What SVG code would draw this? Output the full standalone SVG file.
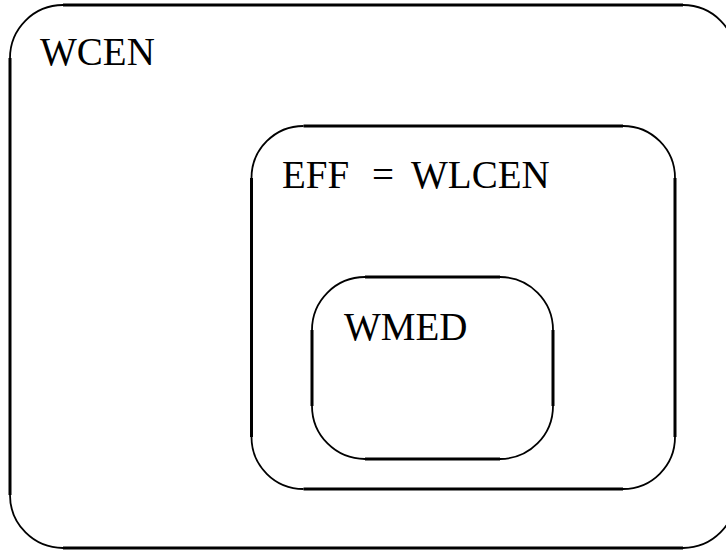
<svg xmlns="http://www.w3.org/2000/svg" width="726" height="550" viewBox="0 0 726 550">
<style>
.ln{fill:none;stroke:#000;stroke-width:3}
.arc{fill:none;stroke:#000;stroke-width:1.8}
.lbl{font-family:"Liberation Serif","Times New Roman",serif;font-size:39px;fill:#000}
</style>
<rect width="726" height="550" fill="#fff"/>
<g id="WCEN">
<path class="ln" d="M63,5 H683 M736,58 V495 M683,548 H63 M10,495 V58"/>
<path class="arc" d="M10,58 A53,53 0 0 1 63,5 M683,5 A53,53 0 0 1 736,58 M736,495 A53,53 0 0 1 683,548 M63,548 A53,53 0 0 1 10,495"/>
<text class="lbl" x="40" y="65">WCEN</text>
</g>
<g id="WLCEN">
<path class="ln" d="M303.5,126 H623 M675,178 V437 M623,489 H303.5 M251.5,437 V178"/>
<path class="arc" d="M251.5,178 A52,52 0 0 1 303.5,126 M623,126 A52,52 0 0 1 675,178 M675,437 A52,52 0 0 1 623,489 M303.5,489 A52,52 0 0 1 251.5,437"/>
<text class="lbl" y="188"><tspan x="282">EFF</tspan><tspan x="372">=</tspan><tspan x="411">WLCEN</tspan></text>
</g>
<g id="WMED">
<path class="ln" d="M365,277 H500 M553,330 V406 M500,459 H365 M312,406 V330"/>
<path class="arc" d="M312,330 A53,53 0 0 1 365,277 M500,277 A53,53 0 0 1 553,330 M553,406 A53,53 0 0 1 500,459 M365,459 A53,53 0 0 1 312,406"/>
<text class="lbl" x="344" y="340">WMED</text>
</g>
<g id="connectors"/>
</svg>
